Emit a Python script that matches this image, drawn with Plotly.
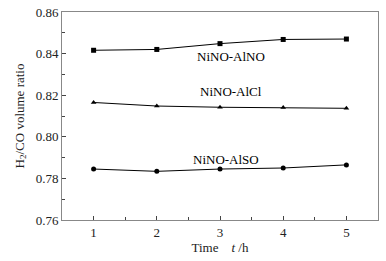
import plotly.graph_objects as go

time_h = [1, 2, 3, 4, 5]
ninO_alno = [0.8416, 0.8420, 0.8448, 0.8468, 0.8470]
ninO_alcl = [0.8165, 0.8148, 0.8142, 0.8141, 0.8137]
ninO_also = [0.7845, 0.7834, 0.7845, 0.7850, 0.7865]
series_names = ["NiNO-AlNO", "NiNO-AlCl", "NiNO-AlSO"]
label_x = [3.17, 3.17, 3.1]
label_y = [0.8385, 0.8217, 0.7892]

fig = go.Figure()
for vals, sym, name in zip([ninO_alno, ninO_alcl, ninO_also],
                           ["square", "triangle-up", "circle"], series_names):
    fig.add_trace(go.Scatter(x=time_h, y=vals, mode="lines+markers", name=name,
                             line=dict(color="black", width=1),
                             marker=dict(symbol=sym, size=5, color="black")))

for name, lx, ly in zip(series_names, label_x, label_y):
    fig.add_annotation(x=lx, y=ly, text=name, showarrow=False,
                       font=dict(family="Liberation Serif", size=13, color="black"))

axis_common = dict(showline=True, linecolor="#888", linewidth=1, mirror=True,
                   ticks="inside", ticklen=4, tickcolor="#444", showgrid=False,
                   zeroline=False, automargin=False,
                   tickfont=dict(family="Liberation Serif", size=13, color="#222"))

fig.update_layout(
    width=386, height=261, showlegend=False,
    plot_bgcolor="white", paper_bgcolor="white",
    margin=dict(l=62, r=8, t=12, b=41),
    font=dict(family="Liberation Serif", size=13, color="#222"),
    xaxis=dict(range=[0.5, 5.5], tickvals=[1, 2, 3, 4, 5],
               minor=dict(ticks="inside", ticklen=3, tickcolor="#444", dtick=0.5, tick0=0.5),
               title=dict(text="Time    <i>t</i> /h", font=dict(family="Liberation Serif", size=13), standoff=4),
               **axis_common),
    yaxis=dict(range=[0.76, 0.86], dtick=0.02, tickformat=".2f",
               minor=dict(ticks="inside", ticklen=3, tickcolor="#444", dtick=0.01),
               title=dict(text="H<sub>2</sub>/CO volume ratio", font=dict(family="Liberation Serif", size=13), standoff=8),
               **axis_common),
)

fig.write_html("out.html", config={"displayModeBar": False},
               post_script="document.body.style.margin='0';document.body.style.overflow='hidden';")
